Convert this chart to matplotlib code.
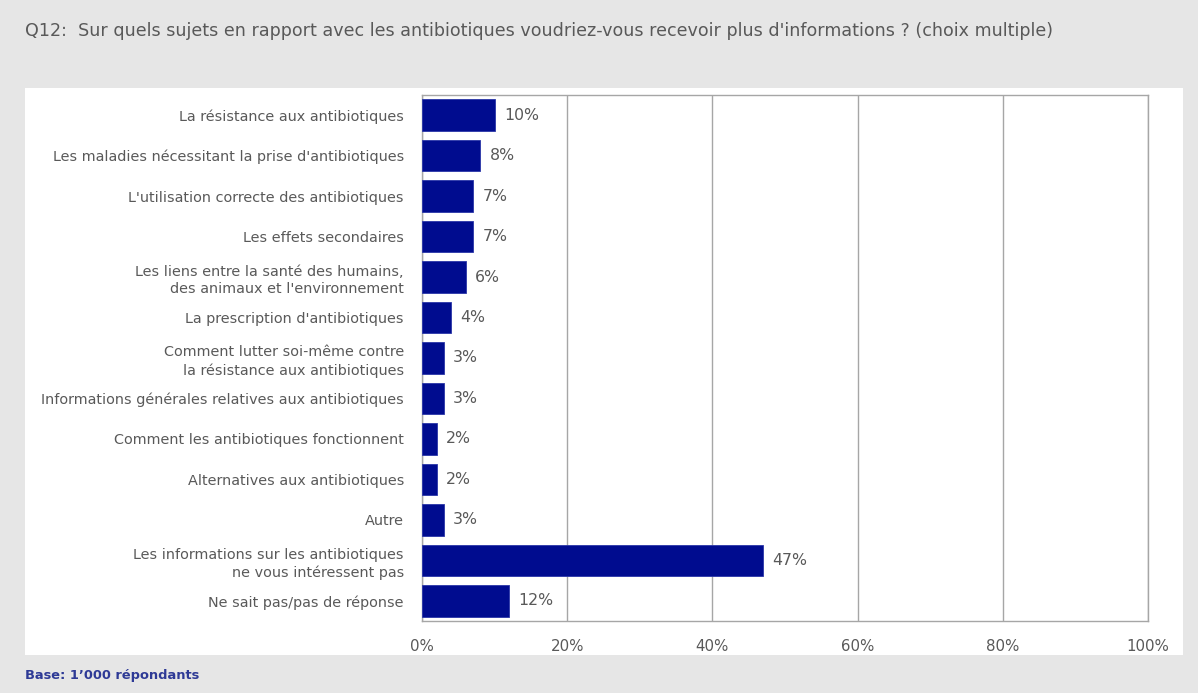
import matplotlib.pyplot as plt
from matplotlib.patches import Rectangle
from matplotlib.ticker import PercentFormatter

# categories and shares (%)
categories = [
    "La résistance aux antibiotiques",
    "Les maladies nécessitant la prise d'antibiotiques",
    "L'utilisation correcte des antibiotiques",
    "Les effets secondaires",
    "Les liens entre la santé des humains,\ndes animaux et l'environnement",
    "La prescription d'antibiotiques",
    "Comment lutter soi-même contre\nla résistance aux antibiotiques",
    "Informations générales relatives aux antibiotiques",
    "Comment les antibiotiques fonctionnent",
    "Alternatives aux antibiotiques",
    "Autre",
    "Les informations sur les antibiotiques\nne vous intéressent pas",
    "Ne sait pas/pas de réponse",
]
values = [10, 8, 7, 7, 6, 4, 3, 3, 2, 2, 3, 47, 12]
xticks = [0, 20, 40, 60, 80, 100]

title = "Q12:  Sur quels sujets en rapport avec les antibiotiques voudriez-vous recevoir plus d'informations ? (choix multiple)"
footer = "Base: 1\u2019000 répondants"

plt.rcParams['font.family'] = ['DejaVu Sans']

W, H = 1198, 693
fig = plt.figure(figsize=(W / 100, H / 100), dpi=100, facecolor='#e6e6e6')

# white panel behind the chart
fig.patches.append(Rectangle((25 / W, 1 - 655 / H), (1183 - 25) / W, (655 - 88) / H,
                             transform=fig.transFigure, facecolor='white',
                             edgecolor='none', zorder=-10))

ax = fig.add_axes([422 / W, 1 - 621 / H, (1148 - 422) / W, (621 - 95) / H])
ax.set_zorder(1)
ax.set_facecolor('white')

y = list(range(len(categories)))
ax.barh(y, values, height=0.78, color='#000c8f', edgecolor='#2a36a8', linewidth=0.6, zorder=3)
for yi, v in zip(y, values):
    ax.text(v + 1.3, yi, f"{v}%", va='center', ha='left', fontsize=11.3, color='#595959')

ax.set_ylim(len(categories) - 0.5, -0.5)
ax.set_xlim(0, 100)
ax.set_yticks(y)
ax.set_yticklabels(categories, fontsize=10.4, color='#595959', linespacing=1.35)
ax.set_xticks(xticks)
ax.xaxis.set_major_formatter(PercentFormatter(decimals=0))
ax.tick_params(axis='x', length=0, pad=13, labelsize=10.8, labelcolor='#595959')
ax.tick_params(axis='y', length=0, pad=13)
ax.grid(axis='x', color='#a6a6a6', linewidth=1, zorder=1)
for s in ax.spines.values():
    s.set_color('#a6a6a6')
    s.set_linewidth(1)

fig.text(25 / W, 1 - 31 / H, title, fontsize=12.6, color='#595959', va='center', ha='left')
fig.text(25 / W, 1 - 675 / H, footer, fontsize=9.4, fontweight='bold', color='#2e3a96',
         va='center', ha='left')

plt.savefig('out.png', dpi=100, facecolor=fig.get_facecolor())
